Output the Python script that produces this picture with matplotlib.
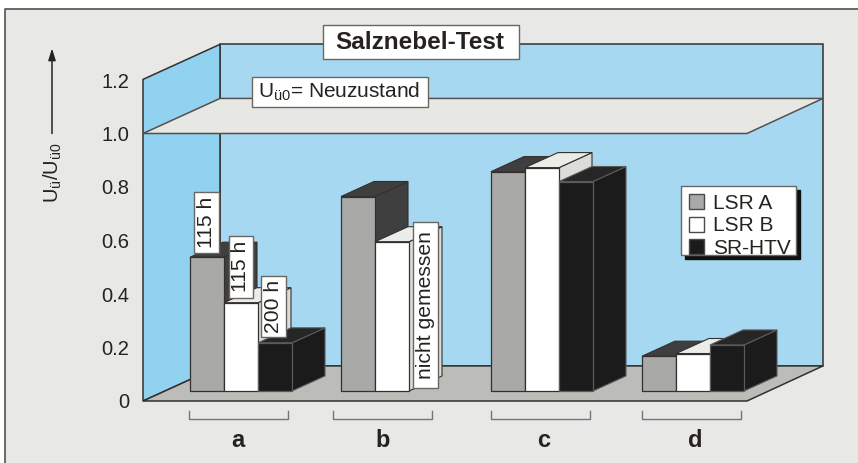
import matplotlib
matplotlib.use('Agg')
import matplotlib.pyplot as plt
from matplotlib.patches import Polygon, Rectangle, Patch

plt.rcParams['font.family'] = ['Liberation Sans', 'DejaVu Sans']
plt.rcParams['mathtext.fontset'] = 'custom'
plt.rcParams['mathtext.rm'] = 'Liberation Sans'

groups = ['a', 'b', 'c', 'd']
series = ['LSR A', 'LSR B', 'SR-HTV']
lsr_a = [0.50, 0.727, 0.82, 0.13]
lsr_b = [0.33, 0.558, 0.835, 0.14]
sr_htv = [0.18, None, 0.783, 0.172]
yticks = [0, 0.2, 0.4, 0.6, 0.8, 1.0, 1.2]
ylabels = ['0', '0.2', '0.4', '0.6', '0.8', '1.0', '1.2']

PX = 267.0   # pixels per 1.0 on the value axis
BG = '#e8e8e7'
LINE = '#33302e'

group_x = [190, 341, 491, 642]
label_x = [238, 383, 544, 695]
bar_w = 34
depth_x, depth_y = 33, 15 / PX
base = 10 / PX

faces = [('#a9a9a7', '#3f3f3f', '#3f3f3f'),
         ('#ffffff', '#dcdcd8', '#ecece8'),
         ('#1b1b1b', '#1b1b1b', '#262626')]


def val(py):
    return (401 - py) / PX


fig = plt.figure(figsize=(8.58, 4.63), dpi=100, facecolor='white')
fig.add_artist(Rectangle((5 / 858, 0), 853 / 858, 454 / 463, transform=fig.transFigure,
                         facecolor=BG, edgecolor='none', zorder=-1))
fig.add_artist(plt.Line2D([5 / 858, 5 / 858, 1], [0, 454 / 463, 454 / 463], color='#55504c',
                          lw=1.2, zorder=-0.5))
ax = fig.add_axes([143 / 858, 62 / 463, 604 / 858, 321 / 463])
ax.patch.set_visible(False)
ax.set_xlim(143, 747)
ax.set_ylim(0, 1.2)
for s in ax.spines.values():
    s.set_visible(False)


def poly(pts, fc, ec=LINE, lw=1.1, z=1):
    p = Polygon([(x, val(y)) for x, y in pts], closed=True, facecolor=fc, edgecolor=ec,
                lw=lw, zorder=z, clip_on=False, joinstyle='miter')
    ax.add_patch(p)


# room
poly([(220, 45), (823, 45), (823, 366), (220, 366)], '#a6d9f1', z=1)
poly([(143, 80), (220, 45), (220, 366), (143, 401)], '#90d2f0', z=1.1)
poly([(143, 401), (220, 366), (823, 366), (747, 401)], '#bcbcb8', z=1.2)
poly([(143, 134), (220, 99), (823, 99), (747, 134)], '#e7e7e3', ec='#55504c', z=1.3)

# bars
for g in range(4):
    for i, values in enumerate([lsr_a, lsr_b, sr_htv]):
        v = values[g]
        if v is None:
            continue
        x0 = group_x[g] + i * bar_w
        front, side, top = faces[i]
        ec = '#5a5a5a' if i == 2 else LINE
        z = 2 + g + i * 0.1
        y1 = base + v
        ax.add_patch(Polygon([(x0 + bar_w, base), (x0 + bar_w + depth_x, base + depth_y),
                              (x0 + bar_w + depth_x, y1 + depth_y), (x0 + bar_w, y1)],
                             facecolor=side, edgecolor=ec, lw=0.8, zorder=z, clip_on=False))
        ax.add_patch(Polygon([(x0, y1), (x0 + depth_x, y1 + depth_y),
                              (x0 + bar_w + depth_x, y1 + depth_y), (x0 + bar_w, y1)],
                             facecolor=top, edgecolor=ec, lw=0.8, zorder=z, clip_on=False))
        ax.bar(x0, v, width=bar_w, bottom=base, align='edge', color=front, edgecolor=ec,
               lw=0.9, zorder=z + 0.01, clip_on=False)


def box(x0, x1, y0, y1, z=8, lw=1.0, fc='white', ec='#6a6662'):
    ax.add_patch(Rectangle((x0, val(y1)), x1 - x0, (y1 - y0) / PX, facecolor=fc,
                           edgecolor=ec, lw=lw, zorder=z, clip_on=False))


# rotated notes on the bars
notes = [('115 h', 194, 219, 192, 253), ('115 h', 229, 253, 236, 298),
         ('200 h', 261, 286, 276, 337), ('nicht gemessen', 413, 438, 222, 388)]
for txt, x0, x1, y0, y1 in notes:
    box(x0, x1, y0, y1)
    ax.text((x0 + x1) / 2, val((y0 + y1) / 2), txt, rotation=90, ha='center', va='center',
            fontsize=15.2, color='#26231f', zorder=9)

# title and reference note
box(323, 519, 26, 60)
ax.text(420, val(43), 'Salznebel-Test', fontsize=17.5, fontweight='bold', ha='center',
        va='center', color='#26231f', zorder=9)
box(252, 428, 78, 108)
ax.text(258, val(92), 'U$_{\\mathrm{ü0}}$= Neuzustand', fontsize=15, ha='left', va='center',
        color='#26231f', zorder=9)

# brackets below the groups
for x0 in [189, 333, 491, 642]:
    ax.plot([x0, x0, x0 + 99, x0 + 99], [val(411), val(419), val(419), val(411)],
            color='#77757a', lw=1.0, clip_on=False, zorder=3)

ax.set_yticks(yticks, ylabels)
ax.set_xticks(label_x, groups)
ax.tick_params(axis='y', length=0, pad=10, labelsize=14.5, labelcolor='#26231f')
ax.tick_params(axis='x', length=0, pad=20)
for t in ax.get_xticklabels():
    t.set_fontsize(17)
    t.set_fontweight('bold')
    t.set_color('#26231f')

ax.set_ylabel('U$_{\\mathrm{ü}}$/U$_{\\mathrm{ü0}}$', fontsize=14.5, color='#26231f')
ax.yaxis.set_label_coords((64 - 143) / 604, val(173) / 1.2)
ax.annotate('', xy=(52, val(49)), xytext=(52, val(134)), annotation_clip=False,
            arrowprops=dict(arrowstyle='-|>,head_width=0.22,head_length=0.7', color='#26231f', lw=1.1,
                            shrinkA=0, shrinkB=0))

# legend: frame and shadow drawn by hand so the box fits tight
box(685, 800, 190, 259, z=9.5, fc='#111111', ec='#111111')
box(681, 796, 186, 255, z=9.6)
handles = [Patch(facecolor=f[0], edgecolor='#4a4a4a', lw=1.0) for f in faces]
leg = ax.legend(handles, series, loc='upper left', bbox_to_anchor=(683, val(188)),
                bbox_transform=ax.transData, fontsize=15, frameon=False, borderpad=0.3,
                labelspacing=0.17, handlelength=0.72, handleheight=0.72, handletextpad=0.4,
                borderaxespad=0)
leg.set_zorder(10)
for t in leg.get_texts():
    t.set_color('#26231f')

fig.savefig('out.png', dpi=100)
